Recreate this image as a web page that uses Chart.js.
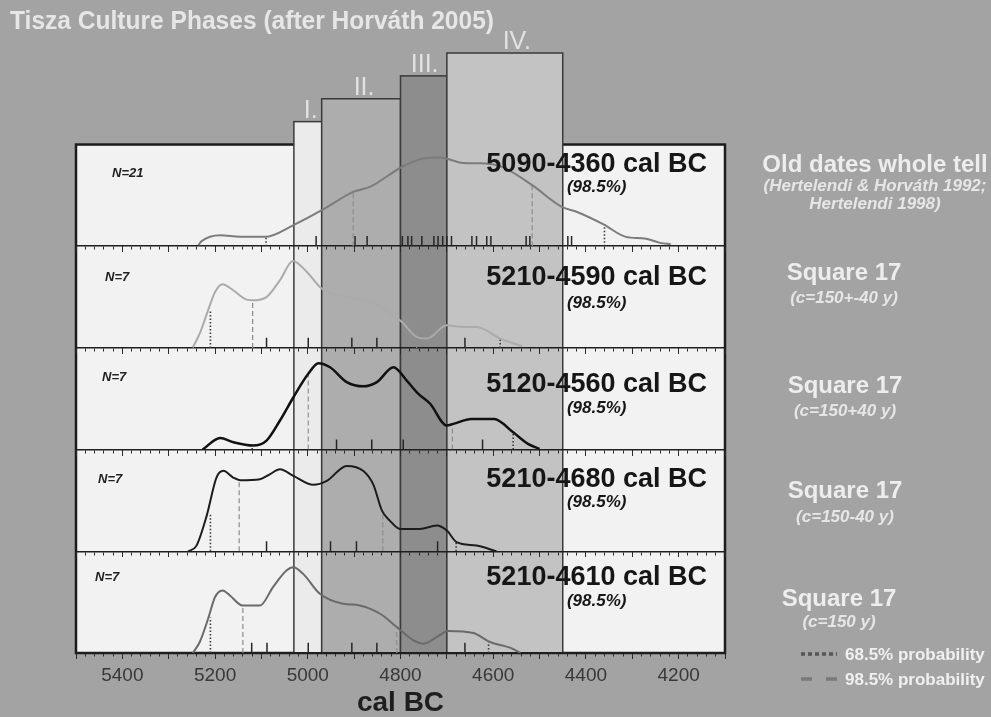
<!DOCTYPE html>
<html>
<head>
<meta charset="utf-8">
<title>Tisza Culture Phases</title>
<script src="https://cdn.jsdelivr.net/npm/chart.js@4.4.1/dist/chart.umd.min.js"></script>
<style>
  html, body { margin: 0; padding: 0; background: #a3a3a3; }
  #wrap { width: 991px; height: 717px; }
</style>
</head>
<body>
<div id="wrap"><canvas id="tisza" width="991" height="717"></canvas></div>
<script>
// ---- data ----
var chartTitle = 'Tisza Culture Phases (after Horváth 2005)';
var xMin = 4100, xMax = 5500;                       // cal BC, shown reversed
var tickYears = [5400, 5200, 5000, 4800, 4600, 4400, 4200];

var phaseNames = ['I.', 'II.', 'III.', 'IV.'];
var phaseFrom = [5030, 4970, 4800, 4700];
var phaseTo = [4970, 4800, 4700, 4450];
var phaseLevel = [1, 2, 3, 4];

var sampleN = ['N=21', 'N=7', 'N=7', 'N=7', 'N=7'];
var rangeText = ['5090-4360 cal BC', '5210-4590 cal BC', '5120-4560 cal BC', '5210-4680 cal BC', '5210-4610 cal BC'];
var rangeNote = '(98.5%)';
var groupName = ['Old dates whole tell', 'Square 17', 'Square 17', 'Square 17', 'Square 17'];
var groupNote = [['(Hertelendi & Horváth 1992;', 'Hertelendi 1998)'], ['(c=150+-40 y)'], ['(c=150+40 y)'], ['(c=150-40 y)'], ['(c=150 y)']];
var legendLabels = ['68.5% probability', '98.5% probability'];

// summed probability curves, one row per panel (years cal BC, relative probability)
var curveYears = [
  [5236, 5229, 5189, 5146, 5092, 5031, 4967, 4902, 4866, 4797, 4751, 4715, 4665, 4625, 4581, 4516, 4452, 4419, 4362, 4314, 4273, 4240, 4217],
  [5248, 5233, 5215, 5200, 5184, 5161, 5132, 5119, 5089, 5060, 5032, 5002, 4970, 4916, 4866, 4830, 4797, 4765, 4743, 4700, 4672, 4635, 4585, 4537],
  [5227, 5189, 5160, 5118, 5089, 5060, 5031, 4999, 4977, 4952, 4916, 4880, 4851, 4815, 4787, 4762, 4736, 4700, 4686, 4647, 4598, 4557, 4525, 4500],
  [5258, 5240, 5218, 5197, 5182, 5161, 5146, 5103, 5082, 5060, 5031, 4988, 4959, 4916, 4880, 4859, 4840, 4823, 4801, 4758, 4722, 4700, 4679, 4636, 4593],
  [5248, 5233, 5215, 5200, 5184, 5168, 5141, 5103, 5075, 5046, 5031, 5010, 4974, 4924, 4888, 4844, 4808, 4772, 4750, 4722, 4697, 4643, 4607, 4564, 4541]
];
var curveProb = [
  [0.01, 0.05, 0.108, 0.092, 0.092, 0.207, 0.361, 0.534, 0.583, 0.779, 0.862, 0.872, 0.819, 0.815, 0.78, 0.6, 0.386, 0.337, 0.215, 0.092, 0.076, 0.033, 0.02],
  [0.004, 0.142, 0.371, 0.55, 0.626, 0.567, 0.475, 0.468, 0.5, 0.666, 0.855, 0.747, 0.584, 0.5, 0.452, 0.37, 0.255, 0.108, 0.092, 0.223, 0.207, 0.206, 0.092, 0.017],
  [0, 0.115, 0.072, 0.04, 0.089, 0.286, 0.515, 0.745, 0.85, 0.81, 0.664, 0.622, 0.664, 0.81, 0.681, 0.55, 0.451, 0.237, 0.253, 0.3, 0.302, 0.17, 0.057, 0.007],
  [0, 0.056, 0.351, 0.725, 0.791, 0.725, 0.699, 0.709, 0.757, 0.807, 0.742, 0.654, 0.693, 0.84, 0.79, 0.66, 0.4, 0.302, 0.22, 0.22, 0.253, 0.204, 0.09, 0.056, 0],
  [0, 0.108, 0.337, 0.55, 0.615, 0.566, 0.468, 0.468, 0.648, 0.811, 0.843, 0.778, 0.582, 0.484, 0.468, 0.386, 0.255, 0.124, 0.092, 0.157, 0.216, 0.196, 0.108, 0.053, 0]
];
// single dates (marks on the axis)
var dateYears = [
  [4982, 4898, 4872, 4796, 4784, 4776, 4754, 4728, 4719, 4709, 4700, 4690, 4646, 4636, 4614, 4605, 4529, 4521, 4439, 4431],
  [5089, 4999, 4905, 4851, 4661],
  [4938, 4862, 4794, 4623],
  [5089, 4951, 4895, 4720],
  [5121, 5088, 4999, 4905, 4851, 4661]
];
// range limits: dotted and dashed drop lines (year, curve height)
var dottedYears = [[5090, 4360], [5210, 4585], [5120, 4557], [5210, 4680], [5210, 4610]];
var dottedProb = [[0.09, 0.2], [0.37, 0.09], [0.04, 0.16], [0.38, 0.09], [0.35, 0.105]];
var dashedYears = [[4902, 4516], [5119, 4765], [4999, 4688], [5148, 4838], [5140, 4808]];
var dashedProb = [[0.534, 0.6], [0.46, 0.1], [0.74, 0.25], [0.69, 0.37], [0.46, 0.25]];

// ---- styles ----
var panels = [1, 2, 3, 4, 5];
var curveColor = ['#7c7c7c', '#ababab', '#111111', '#1c1c1c', '#6a6a6a'];
var curveWidth = [2, 2, 2.5, 2, 2];
var phaseFill = ['#ebebeb', '#adadad', '#8d8d8d', '#c3c3c3'];
var phaseLabelShift = [3, 3, 1, 12];
var markH = 0.1;
var FONT = '"Liberation Sans", Arial, sans-serif';
// text offsets inside each panel (from panel top), right-side label centre (from plot right)
var panelText = [
  { nx: 112, ny: 32, range: 27, pct: 47, cx: 150, name: 27, note: 46 },
  { nx: 105, ny: 35, range: 39, pct: 62, cx: 119, name: 34, note: 57 },
  { nx: 102, ny: 33, range: 44, pct: 65, cx: 120, name: 45, note: 68 },
  { nx: 98, ny: 33, range: 37, pct: 57, cx: 120, name: 48, note: 72 },
  { nx: 95, ny: 30, range: 34, pct: 55, cx: 114, name: 55, note: 76 }
];

Chart.defaults.font.family = FONT;

function drops(years, heights) {
  var pts = [];
  years.forEach(function (yr, k) {
    pts.push({ x: yr, y: 0 }, { x: yr, y: heights[k] }, { x: yr, y: null });
  });
  return pts;
}

function tickAxis(panel, step, len, border) {
  var pos = {};
  pos['y' + panel] = 0;
  return {
    type: 'linear', axis: 'x', position: pos, min: xMin, max: xMax, reverse: true,
    ticks: { display: false, stepSize: step, autoSkip: false, includeBounds: false },
    grid: { drawOnChartArea: false, drawTicks: true, tickLength: len, tickColor: '#2a2a2a', tickWidth: 1 },
    border: { display: border, color: '#1e1e1e', width: 1.5 }
  };
}

var scales = {
  x: {
    type: 'linear', position: 'bottom', min: xMin, max: xMax, reverse: true,
    afterBuildTicks: function (s) { s.ticks = tickYears.map(function (v) { return { value: v }; }); },
    afterFit: function (s) { s.height = 64; },
    ticks: { color: '#383838', font: { size: 19 }, padding: 11, autoSkip: false, maxRotation: 0,
             callback: function (v) { return String(v); } },
    grid: { display: false, drawTicks: false, tickLength: 0 },
    border: { display: true, color: '#1e1e1e', width: 2 },
    title: { display: true, text: 'cal BC', color: '#1e1e1e', font: { size: 28, weight: 'bold', lineHeight: 1 }, padding: { top: 2, bottom: 0 } }
  },
  y0: { type: 'linear', position: 'left', stack: 'v', stackWeight: 0.9, weight: 10, min: 0, max: 4, display: false }
};

var datasets = [];
panels.forEach(function (p, i) {
  var yid = 'y' + p;
  scales[yid] = { type: 'linear', position: 'left', stack: 'v', stackWeight: 1, weight: 10 - p, min: 0, max: 1, display: false };
  scales['xm' + p] = tickAxis(p, 20, 3, true);
  scales['xM' + p] = tickAxis(p, 100, 6, false);

  datasets.push({
    label: 'curve ' + p, xAxisID: 'x', yAxisID: yid, order: 0,
    data: curveYears[i].map(function (yr, k) { return { x: yr, y: curveProb[i][k] }; }),
    borderColor: curveColor[i], borderWidth: curveWidth[i], cubicInterpolationMode: 'monotone', pointRadius: 0
  });
  datasets.push({
    label: 'dates ' + p, xAxisID: 'x', yAxisID: yid, order: 2,
    data: drops(dateYears[i], dateYears[i].map(function () { return markH; })),
    borderColor: '#262626', borderWidth: 1.5, pointRadius: 0
  });
  datasets.push({
    label: '68.5% ' + p, xAxisID: 'x', yAxisID: yid, order: 1,
    data: drops(dottedYears[i], dottedProb[i]),
    borderColor: '#3a3a3a', borderWidth: 1.6, borderDash: [1.5, 2], pointRadius: 0
  });
  datasets.push({
    label: '98.5% ' + p, xAxisID: 'x', yAxisID: yid, order: 1,
    data: drops(dashedYears[i], dashedProb[i]),
    borderColor: '#8c8c8c', borderWidth: 1.2, borderDash: [5, 3], pointRadius: 0
  });
});

var decor = {
  id: 'decor',
  beforeDraw: function (chart) {
    var c = chart.ctx, xs = chart.scales.x, ph = chart.scales.y0;
    var top = chart.scales.y1.top, bottom = chart.scales.y5.bottom;
    c.save();
    c.fillStyle = '#f2f2f2';
    c.fillRect(xs.left, top, xs.right - xs.left, bottom - top);
    c.strokeStyle = '#1c1c1c';
    c.lineWidth = 2.5;
    c.strokeRect(xs.left, top, xs.right - xs.left, bottom - top);
    phaseNames.forEach(function (name, i) {
      var x0 = xs.getPixelForValue(phaseFrom[i]), x1 = xs.getPixelForValue(phaseTo[i]);
      var yt = ph.getPixelForValue(phaseLevel[i]);
      c.fillStyle = phaseFill[i];
      c.fillRect(x0, yt, x1 - x0, bottom - yt);
      c.strokeStyle = '#3a3a3a';
      c.lineWidth = 1.5;
      c.strokeRect(x0, yt, x1 - x0, bottom - yt);
      c.fillStyle = '#e2e2e2';
      c.font = '25px ' + FONT;
      c.textAlign = 'center';
      c.textBaseline = 'alphabetic';
      c.fillText(name, (x0 + x1) / 2 + phaseLabelShift[i], yt - 4);
    });
    c.restore();
  },
  afterDraw: function (chart) {
    var c = chart.ctx, xs = chart.scales.x;
    c.save();
    c.textBaseline = 'alphabetic';

    // title, squeezed to the narrow look of the original
    c.fillStyle = '#e6e6e6';
    c.font = 'bold 25px ' + FONT;
    c.textAlign = 'left';
    var tw = c.measureText(chartTitle).width;
    c.save();
    c.translate(10, 29);
    c.scale(484 / tw, 1);
    c.fillText(chartTitle, 0, 0);
    c.restore();

    panels.forEach(function (p, i) {
      var t = chart.scales['y' + p].top, L = panelText[i];
      c.fillStyle = '#222';
      c.textAlign = 'left';
      c.font = 'italic bold 13px ' + FONT;
      c.fillText(sampleN[i], L.nx, t + L.ny);

      c.fillStyle = '#161616';
      c.textAlign = 'right';
      c.font = 'bold 27px ' + FONT;
      c.fillText(rangeText[i], xs.right - 18, t + L.range);
      var w = c.measureText(rangeText[i]).width;
      c.textAlign = 'center';
      c.font = 'italic bold 17px ' + FONT;
      c.fillText(rangeNote, xs.right - 18 - w / 2, t + L.pct);

      c.fillStyle = '#ededed';
      c.font = 'bold 24px ' + FONT;
      c.fillText(groupName[i], xs.right + L.cx, t + L.name);
      c.fillStyle = '#e6e6e6';
      c.font = 'italic bold 17px ' + FONT;
      groupNote[i].forEach(function (line, k) {
        c.fillText(line, xs.right + L.cx, t + L.note + k * 18);
      });
    });

    // legend for the drop lines
    var lx = xs.right + 76, ly = chart.scales.y5.bottom;
    c.lineWidth = 3.5;
    c.strokeStyle = '#555';
    c.setLineDash([4, 3]);
    c.beginPath(); c.moveTo(lx, ly + 1); c.lineTo(lx + 36, ly + 1); c.stroke();
    c.strokeStyle = '#7a7a7a';
    c.setLineDash([11, 14]);
    c.beginPath(); c.moveTo(lx, ly + 26); c.lineTo(lx + 36, ly + 26); c.stroke();
    c.setLineDash([]);
    c.fillStyle = '#f0f0f0';
    c.font = 'bold 17px ' + FONT;
    c.textAlign = 'left';
    c.fillText(legendLabels[0], lx + 44, ly + 7);
    c.fillText(legendLabels[1], lx + 44, ly + 32);
    c.restore();
  }
};

new Chart(document.getElementById('tisza').getContext('2d'), {
  type: 'line',
  data: { datasets: datasets },
  plugins: [decor],
  options: {
    responsive: false,
    maintainAspectRatio: false,
    animation: false,
    events: [],
    spanGaps: false,
    layout: { padding: { left: 76, right: 266, top: 53, bottom: 0 } },
    plugins: { legend: { display: false }, tooltip: { enabled: false }, title: { display: false } },
    scales: scales
  }
});
</script>
</body>
</html>
